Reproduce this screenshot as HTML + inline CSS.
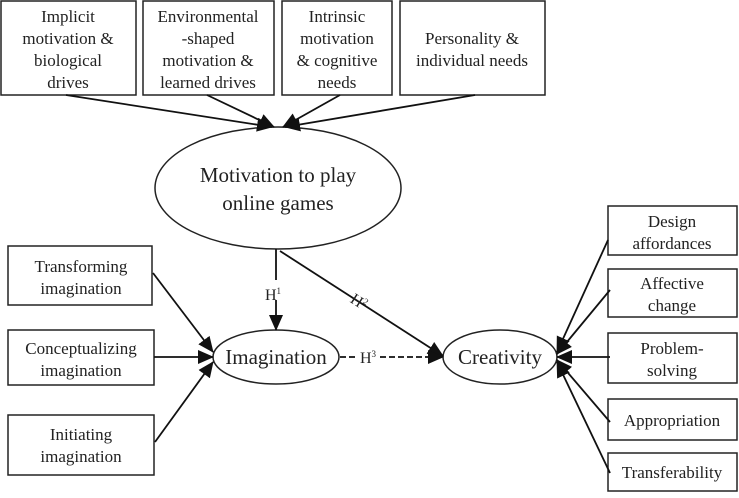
<!DOCTYPE html>
<html><head><meta charset="utf-8"><style>
body{margin:0;background:#fff}
svg text{font-family:"Liberation Serif",serif;fill:#222;text-anchor:middle}
</style></head><body>
<svg width="739" height="493" viewBox="0 0 739 493" xmlns="http://www.w3.org/2000/svg">
<defs><marker id="a" markerWidth="10" markerHeight="10" refX="9" refY="5" orient="auto" markerUnits="userSpaceOnUse" viewBox="0 0 10 10"><path d="M0,0 L10,5 L0,10 z" fill="#111"/></marker>
<marker id="b" markerWidth="16" markerHeight="14" refX="15" refY="7" orient="auto" markerUnits="userSpaceOnUse" viewBox="0 0 16 14"><path d="M0,0 L16,7 L0,14 z" fill="#111"/></marker></defs>
<g fill="none" stroke="#222" stroke-width="1.5">
<rect x="1" y="1" width="135" height="94"/>
<rect x="143" y="1" width="131" height="94"/>
<rect x="282" y="1" width="110" height="94"/>
<rect x="400" y="1" width="145" height="94"/>
<ellipse cx="278" cy="188" rx="123" ry="61"/>
<rect x="8" y="246" width="144" height="59"/>
<rect x="8" y="330" width="146" height="55"/>
<rect x="8" y="415" width="146" height="60"/>
<ellipse cx="276" cy="357" rx="63" ry="27"/>
<ellipse cx="500" cy="357" rx="57" ry="27"/>
<rect x="608" y="206" width="129" height="49"/>
<rect x="608" y="269" width="129" height="48"/>
<rect x="608" y="333" width="129" height="50"/>
<rect x="608" y="399" width="129" height="41"/>
<rect x="608" y="453" width="129" height="38"/>
</g>
<g stroke="#111" stroke-width="1.8" fill="none">
<line x1="66" y1="95" x2="272" y2="127" marker-end="url(#b)"/>
<line x1="207" y1="95" x2="274" y2="127" marker-end="url(#b)"/>
<line x1="340" y1="95" x2="283" y2="127" marker-end="url(#b)"/>
<line x1="475" y1="95" x2="285" y2="127" marker-end="url(#b)"/>
<line x1="276" y1="249" x2="276" y2="280"/>
<line x1="276" y1="300" x2="276" y2="330" marker-end="url(#b)"/>
<line x1="280" y1="251" x2="443" y2="356" marker-end="url(#b)"/>
<line x1="340" y1="357" x2="358" y2="357" stroke-dasharray="6,3"/>
<line x1="380" y1="357" x2="443" y2="357" stroke-dasharray="6,3" marker-end="url(#b)"/>
<line x1="153" y1="273" x2="213" y2="352" marker-end="url(#b)"/>
<line x1="154" y1="357" x2="213" y2="357" marker-end="url(#b)"/>
<line x1="155" y1="442" x2="213" y2="362" marker-end="url(#b)"/>
<line x1="608" y1="240" x2="557" y2="352" marker-end="url(#b)"/>
<line x1="610" y1="290" x2="557" y2="354" marker-end="url(#b)"/>
<line x1="610" y1="357" x2="557" y2="357" marker-end="url(#b)"/>
<line x1="610" y1="422" x2="557" y2="360" marker-end="url(#b)"/>
<line x1="610" y1="473" x2="557" y2="362" marker-end="url(#b)"/>
</g>
<g font-size="17">
<text x="68" y="22">Implicit</text><text x="68" y="44">motivation &amp;</text><text x="68" y="66">biological</text><text x="68" y="88">drives</text>
<text x="208" y="22">Environmental</text><text x="208" y="44">-shaped</text><text x="208" y="66">motivation &amp;</text><text x="208" y="88">learned drives</text>
<text x="337" y="22">Intrinsic</text><text x="337" y="44">motivation</text><text x="337" y="66">&amp; cognitive</text><text x="337" y="88">needs</text>
<text x="472" y="44">Personality &amp;</text><text x="472" y="66">individual needs</text>
<text x="81" y="272">Transforming</text><text x="81" y="294">imagination</text>
<text x="81" y="354">Conceptualizing</text><text x="81" y="376">imagination</text>
<text x="81" y="440">Initiating</text><text x="81" y="462">imagination</text>
<text x="672" y="227">Design</text><text x="672" y="249">affordances</text>
<text x="672" y="289">Affective</text><text x="672" y="311">change</text>
<text x="672" y="354">Problem-</text><text x="672" y="376">solving</text>
<text x="672" y="426">Appropriation</text>
<text x="672" y="478">Transferability</text>
</g>
<text x="278" y="182" font-size="21">Motivation to play</text>
<text x="278" y="210" font-size="21">online games</text>
<text x="276" y="364" font-size="21">Imagination</text>
<text x="500" y="364" font-size="21">Creativity</text>
<text x="273" y="300" font-size="16">H<tspan font-size="9" dy="-6">1</tspan></text>
<text x="356" y="306" font-size="16" transform="rotate(33 356 306)">H<tspan font-size="9" dy="-6">2</tspan></text>
<text x="368" y="363" font-size="16">H<tspan font-size="9" dy="-6">3</tspan></text>
</svg>
</body></html>
